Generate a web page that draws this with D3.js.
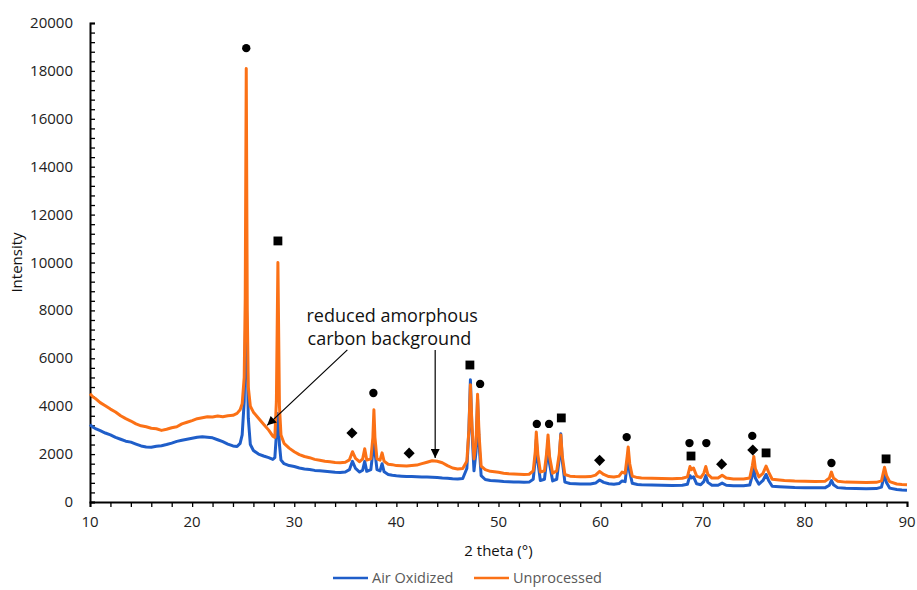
<!DOCTYPE html>
<html>
<head>
<meta charset="utf-8">
<script src="https://cdn.jsdelivr.net/npm/d3@7"></script>
<style>
  body { margin: 0; background: #fff; }
  svg { display: block; font-family: "Open Sans", sans-serif; }
</style>
</head>
<body>
<svg class="canvas" width="917" height="590"></svg>
<script>
// series: [2 theta, intensity]
const unprocessed = [
  [10,4520],[10.3,4380],[10.6,4300],[11,4150],[11.5,4020],[12,3880],[12.5,3760],[13,3600],[13.5,3480],[14,3380],
  [14.5,3260],[15,3180],[15.5,3140],[16,3080],[16.5,3060],[17,2990],[17.5,3040],[18,3100],[18.5,3140],[19,3260],
  [19.5,3330],[20,3400],[20.5,3480],[21,3520],[21.5,3560],[22,3550],[22.5,3590],[23,3560],[23.5,3600],[24,3620],
  [24.4,3700],[24.7,3850],[24.9,4100],[25.1,5200],[25.2,8500],[25.3,18100],[25.4,8000],[25.5,4800],[25.7,4000],[26,3750],
  [26.5,3500],[27,3250],[27.5,3000],[27.9,2750],[28.1,2700],[28.25,4200],[28.4,10000],[28.55,4000],[28.7,2800],[29,2450],
  [29.5,2250],[30,2100],[30.5,1980],[31,1900],[31.5,1850],[32,1780],[32.5,1740],[33,1700],[33.5,1680],[34,1650],
  [34.5,1640],[35,1660],[35.4,1760],[35.7,2100],[36,1820],[36.4,1680],[36.7,1800],[36.9,2220],[37.1,1750],[37.5,1800],
  [37.7,2700],[37.8,3850],[37.9,2700],[38.1,1800],[38.4,1750],[38.6,2050],[38.8,1700],[39.2,1580],[39.6,1560],[40,1520],
  [40.5,1510],[41,1500],[41.5,1520],[42,1540],[42.5,1600],[43,1660],[43.5,1720],[44,1700],[44.5,1640],[45,1520],
  [45.5,1420],[46,1380],[46.5,1400],[46.9,1700],[47.1,3000],[47.25,4900],[47.4,3200],[47.6,1800],[47.8,2500],[47.95,4500],
  [48.1,2800],[48.3,1500],[48.7,1350],[49.2,1280],[50,1240],[50.5,1200],[51,1180],[51.5,1170],[52,1160],[52.5,1150],
  [53,1160],[53.4,1300],[53.6,2100],[53.7,2920],[53.85,2000],[54.1,1250],[54.5,1300],[54.7,2000],[54.85,2800],[55,1900],
  [55.3,1200],[55.7,1300],[55.95,2000],[56.1,2800],[56.25,1900],[56.5,1150],[57,1080],[57.5,1060],[58,1050],[58.5,1050],
  [59,1060],[59.5,1120],[59.9,1280],[60.3,1150],[60.8,1060],[61.3,1040],[61.8,1080],[62.1,1250],[62.4,1200],[62.6,1900],
  [62.7,2300],[62.85,1600],[63.1,1080],[63.6,1020],[64,1000],[65,990],[66,980],[67,970],[68,990],[68.5,1050],
  [68.75,1480],[68.9,1350],[69.1,1420],[69.4,1080],[69.8,1020],[70.1,1200],[70.3,1480],[70.5,1150],[70.9,1000],[71.5,1000],
  [71.9,1120],[72.3,1000],[73,960],[74,960],[74.6,1000],[74.85,1500],[75,1900],[75.15,1400],[75.5,1050],[75.9,1200],
  [76.2,1500],[76.45,1250],[76.8,950],[77.5,920],[78,900],[79,880],[80,870],[81,860],[82,870],[82.4,1000],
  [82.6,1250],[82.8,1000],[83.2,870],[84,830],[85,820],[86,810],[87,820],[87.5,880],[87.8,1450],[88,1100],
  [88.3,850],[89,750],[89.5,730],[90,720]
];

const airOxidized = [
  [10,3230],[10.3,3120],[10.6,3050],[11,2980],[11.5,2880],[12,2800],[12.5,2700],[13,2620],[13.5,2540],[14,2500],
  [14.5,2420],[15,2340],[15.5,2300],[16,2290],[16.5,2330],[17,2350],[17.5,2400],[18,2460],[18.5,2530],[19,2580],
  [19.5,2620],[20,2660],[20.5,2700],[21,2720],[21.5,2700],[22,2680],[22.5,2600],[23,2520],[23.5,2420],[24,2340],
  [24.4,2320],[24.7,2450],[24.9,2800],[25.1,4200],[25.2,6500],[25.3,9000],[25.4,6000],[25.5,3500],[25.7,2400],[26,2150],
  [26.5,2000],[27,1920],[27.5,1850],[27.9,1780],[28.1,1850],[28.25,2800],[28.4,3700],[28.55,2400],[28.7,1750],[29,1600],
  [29.5,1520],[30,1480],[30.5,1420],[31,1380],[31.5,1360],[32,1320],[32.5,1300],[33,1280],[33.5,1260],[34,1240],
  [34.5,1230],[35,1250],[35.4,1350],[35.7,1700],[36,1400],[36.4,1250],[36.7,1330],[36.9,1700],[37.1,1280],[37.5,1350],
  [37.7,2100],[37.8,3000],[37.9,2100],[38.1,1350],[38.4,1300],[38.6,1600],[38.8,1260],[39.2,1150],[39.6,1120],[40,1100],
  [40.5,1080],[41,1060],[41.5,1060],[42,1050],[42.5,1040],[43,1040],[43.5,1030],[44,1020],[44.5,1000],[45,990],
  [45.5,970],[46,960],[46.5,980],[46.9,1400],[47.1,3000],[47.25,5100],[47.4,3000],[47.6,1300],[47.8,2100],[47.95,4300],
  [48.1,2400],[48.3,1100],[48.7,940],[49.2,900],[50,880],[50.5,860],[51,850],[51.5,840],[52,830],[52.5,820],
  [53,830],[53.4,950],[53.6,1800],[53.7,2600],[53.85,1700],[54.1,900],[54.5,950],[54.7,1700],[54.85,2550],[55,1600],
  [55.3,880],[55.7,950],[55.95,1800],[56.1,2850],[56.25,1700],[56.5,830],[57,770],[57.5,760],[58,750],[58.5,750],
  [59,750],[59.5,790],[59.9,920],[60.3,820],[60.8,760],[61.3,740],[61.8,770],[62.1,880],[62.4,850],[62.6,1600],
  [62.7,1900],[62.85,1250],[63.1,780],[63.6,730],[64,720],[65,710],[66,700],[67,690],[68,700],[68.5,740],
  [68.75,1100],[68.9,1000],[69.1,1050],[69.4,760],[69.8,720],[70.1,850],[70.3,1100],[70.5,820],[70.9,700],[71.5,700],
  [71.9,790],[72.3,700],[73,680],[74,680],[74.6,710],[74.85,1100],[75,1400],[75.15,1000],[75.5,740],[75.9,900],
  [76.2,1150],[76.45,900],[76.8,660],[77.5,640],[78,630],[79,610],[80,600],[81,590],[82,600],[82.4,700],
  [82.6,900],[82.8,720],[83.2,600],[84,570],[85,560],[86,550],[87,560],[87.5,620],[87.8,1150],[88,800],
  [88.3,580],[89,520],[89.5,500],[90,490]
];

// phase markers placed above the peaks: [2 theta, intensity, shape]
const phaseMarks = [
  [25.3,18950,"circle"],[28.4,10900,"square"],[35.65,2880,"diamond"],[37.75,4550,"circle"],
  [41.25,2040,"diamond"],[47.2,5720,"square"],[48.2,4930,"circle"],[53.75,3260,"circle"],
  [54.95,3260,"circle"],[56.15,3510,"square"],[59.9,1740,"diamond"],[62.55,2710,"circle"],
  [68.7,2460,"circle"],[68.85,1920,"square"],[70.35,2460,"circle"],[71.85,1580,"diamond"],
  [74.85,2760,"circle"],[74.9,2170,"diamond"],[76.2,2050,"square"],[82.6,1630,"circle"],
  [87.95,1800,"square"]
];

const xTicks = [10, 20, 30, 40, 50, 60, 70, 80, 90];
const yTicks = [0, 2000, 4000, 6000, 8000, 10000, 12000, 14000, 16000, 18000, 20000];
const seriesNames = ["Air Oxidized", "Unprocessed"];
const seriesColors = ["#1f5ec9", "#fb7116"];

const svg = d3.select(".canvas");
const x = d3.scaleLinear().domain([10, 90]).range([90, 907]);
const y = d3.scaleLinear().domain([0, 20000]).range([502, 23]);

// axes
const xAxis = svg.append("g").attr("transform", `translate(0,${y(0)})`)
  .call(d3.axisBottom(x).tickValues(d3.range(10, 91, 2)).tickSize(5).tickFormat(""));
const yAxis = svg.append("g").attr("transform", `translate(${x(10)},0)`)
  .call(d3.axisRight(y).tickValues(d3.range(0, 20001, 400)).tickSize(5).tickFormat(""));
[xAxis, yAxis].forEach(a => {
  a.select(".domain").attr("stroke", "#000").attr("stroke-width", 2);
  a.selectAll(".tick line").attr("stroke", "#000").attr("stroke-width", 1.3);
});

svg.append("g").selectAll("text").data(xTicks).enter().append("text")
  .attr("x", d => x(d)).attr("y", y(0) + 25)
  .attr("text-anchor", "middle").attr("font-size", 15).attr("fill", "#222")
  .text(d => d);

svg.append("g").selectAll("text").data(yTicks).enter().append("text")
  .attr("x", x(10) - 17).attr("y", d => y(d) + 5)
  .attr("text-anchor", "end").attr("font-size", 15).attr("fill", "#222")
  .text(d => d);

svg.append("text").attr("x", x(50)).attr("y", 556)
  .attr("text-anchor", "middle").attr("font-size", 15).attr("fill", "#111")
  .text("2 theta (°)");
svg.append("text").attr("transform", `translate(22,${y(10000)}) rotate(-90)`)
  .attr("text-anchor", "middle").attr("font-size", 15).attr("fill", "#111")
  .text("Intensity");

// series, unprocessed on top
const line = d3.line().x(d => x(d[0])).y(d => y(d[1]));
[airOxidized, unprocessed].forEach((s, i) => {
  svg.append("path").datum(s)
    .attr("d", line)
    .attr("fill", "none")
    .attr("stroke", seriesColors[i])
    .attr("stroke-width", 3)
    .attr("stroke-linejoin", "round");
});

// markers
const symbolFor = {
  circle: d3.symbol().type(d3.symbolCircle).size(55)(),
  square: d3.symbol().type(d3.symbolSquare).size(78)(),
  diamond: d3.symbol().type(d3.symbolSquare).size(62)()
};
svg.append("g").selectAll("path").data(phaseMarks).enter().append("path")
  .attr("d", d => symbolFor[d[2]])
  .attr("transform", d => `translate(${x(d[0])},${y(d[1])})` + (d[2] === "diamond" ? " rotate(45)" : ""))
  .attr("fill", "#000");

// annotation
const defs = svg.append("defs");
defs.append("marker")
  .attr("id", "arrow")
  .attr("viewBox", "0 0 10 10")
  .attr("refX", 10).attr("refY", 5)
  .attr("markerWidth", 11).attr("markerHeight", 9)
  .attr("markerUnits", "userSpaceOnUse")
  .attr("orient", "auto")
  .append("path").attr("d", "M0,0L10,5L0,10z").attr("fill", "#000");

svg.append("text").attr("x", x(31.2)).attr("y", y(7520))
  .attr("font-size", 18).attr("fill", "#111").text("reduced amorphous");
svg.append("text").attr("x", x(31.3)).attr("y", y(6560))
  .attr("font-size", 18).attr("fill", "#111").text("carbon background");

svg.append("line")
  .attr("x1", x(35.2)).attr("y1", y(6350)).attr("x2", x(27.35)).attr("y2", y(3200))
  .attr("stroke", "#000").attr("stroke-width", 1.2).attr("marker-end", "url(#arrow)");
svg.append("line")
  .attr("x1", x(43.8)).attr("y1", y(6350)).attr("x2", x(43.8)).attr("y2", y(1840))
  .attr("stroke", "#000").attr("stroke-width", 1.2).attr("marker-end", "url(#arrow)");

// legend
const legend = svg.append("g").selectAll("g").data(seriesNames).enter().append("g")
  .attr("transform", (d, i) => `translate(${333 + i * 141},578)`);
legend.append("line").attr("x1", 0).attr("x2", 35)
  .attr("stroke", (d, i) => seriesColors[i]).attr("stroke-width", 2.6);
legend.append("text").attr("x", 39).attr("y", 5)
  .attr("font-size", 14.5).attr("fill", "#595959").text(d => d);
</script>
</body>
</html>
